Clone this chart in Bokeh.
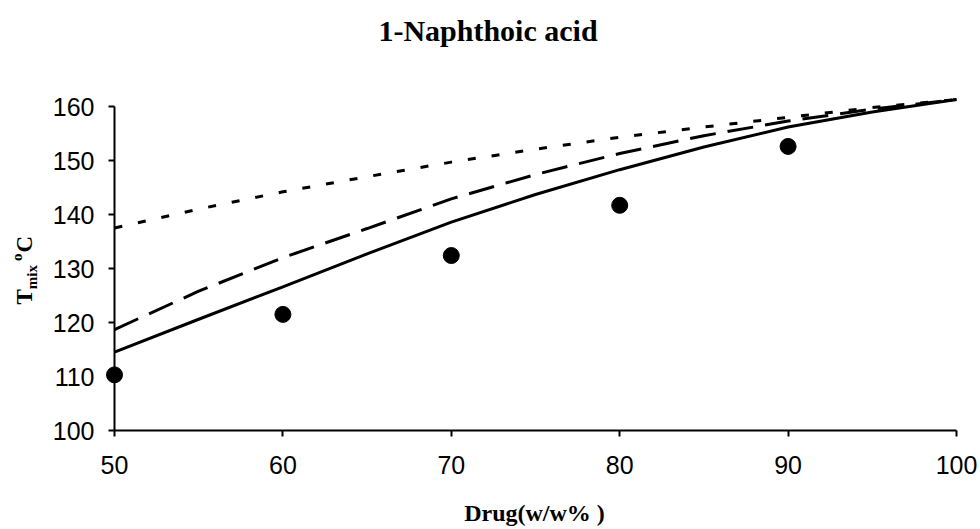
from math import pi

from bokeh.core.properties import value
from bokeh.embed import file_html
from bokeh.models import FixedTicker, Range1d
from bokeh.plotting import figure
from bokeh.resources import INLINE

# Model curves, sampled every 5 w/w%
drug_grid = [50, 55, 60, 65, 70, 75, 80, 85, 90, 95, 100]
tmix_solid = [114.5, 120.6, 126.6, 132.7, 138.6, 143.7, 148.3, 152.5, 156.2, 159.0, 161.3]
tmix_dashed = [118.7, 125.8, 132.0, 137.4, 142.9, 147.4, 151.3, 154.6, 157.3, 159.5, 161.3]
tmix_dotted = [137.5, 141.0, 144.2, 147.0, 149.7, 152.1, 154.3, 156.2, 158.0, 159.8, 161.3]

# Measured melting points
drug_exp = [50, 60, 70, 80, 90]
tmix_exp = [110.3, 121.5, 132.4, 141.7, 152.6]

x_ticks = [50, 60, 70, 80, 90, 100]
y_ticks = [100, 110, 120, 130, 140, 150, 160]

W, H = 980, 529
LEFT, RIGHT, TOP, BOTTOM = 114, 24, 106, 99
FW, FH = W - LEFT - RIGHT, H - TOP - BOTTOM
X0, X1, Y0, Y1 = 50, 100, 100, 160

p = figure(
    width=W, height=H,
    x_range=Range1d(X0, X1), y_range=Range1d(Y0, Y1),
    output_backend="svg", toolbar_location=None, title=None,
    min_border_left=LEFT, min_border_right=RIGHT,
    min_border_top=TOP, min_border_bottom=BOTTOM,
)
p.background_fill_color = "white"
p.border_fill_color = "white"
p.outline_line_color = None
p.xgrid.visible = False
p.ygrid.visible = False

for ax in (p.xaxis[0], p.yaxis[0]):
    ax.axis_line_color = "black"
    ax.axis_line_width = 2
    ax.major_tick_line_color = "black"
    ax.major_tick_line_width = 2
    ax.major_tick_in = 0
    ax.major_tick_out = 6
    ax.minor_tick_line_color = None
    ax.major_label_text_font = "Liberation Sans"
    ax.major_label_text_font_size = "25px"
    ax.major_label_text_color = "black"

p.xaxis.ticker = FixedTicker(ticks=x_ticks)
p.yaxis.ticker = FixedTicker(ticks=y_ticks)
p.xaxis.major_label_standoff = 19
p.yaxis.major_label_standoff = 14

# curves run slightly past the top of the frame, so draw them unclipped
p.line(drug_grid, tmix_solid, line_color="black", line_width=3, level="overlay")
p.line(drug_grid, tmix_dashed, line_color="black", line_width=3,
       line_dash="26 12", level="overlay")
p.line(drug_grid, tmix_dotted, line_color="black", line_width=3,
       line_dash="8 16", level="overlay")
p.scatter(drug_exp, tmix_exp, size=16, color="black", level="overlay")


def dx(sx):
    return X0 + (sx - LEFT) / FW * (X1 - X0)


def dy(sy):
    return Y0 + (TOP + FH - sy) / FH * (Y1 - Y0)


def caption(txt, sx, sy, size, angle=0.0, align="center"):
    # (sx, sy) is the wanted baseline point in canvas pixels; the text box
    # sits a little low, so lift it by a fraction of the font size
    lift = 0.36 * size
    if angle:
        sx -= lift
    else:
        sy -= lift
    p.text(x=[dx(sx)], y=[dy(sy)], text=[txt], angle=angle,
           text_align=align, text_baseline="alphabetic",
           text_font=value("Liberation Serif"), text_font_style="bold",
           text_font_size=value(f"{size}px"), text_color="black", level="overlay")


caption("1-Naphthoic acid", 487.5, 41, 30)
caption("Drug(w/w% )", 534, 521, 24)

# Vertical axis title: T with subscript "mix", then superscript o and C
caption("T", 32, 304, 23, pi / 2, "left")
caption("mix", 37, 288.7, 15, pi / 2, "left")
caption("o", 22, 260.5, 15, pi / 2, "left")
caption("C", 32, 252, 23, pi / 2, "left")

open("out.html", "w").write(file_html(p, INLINE))
